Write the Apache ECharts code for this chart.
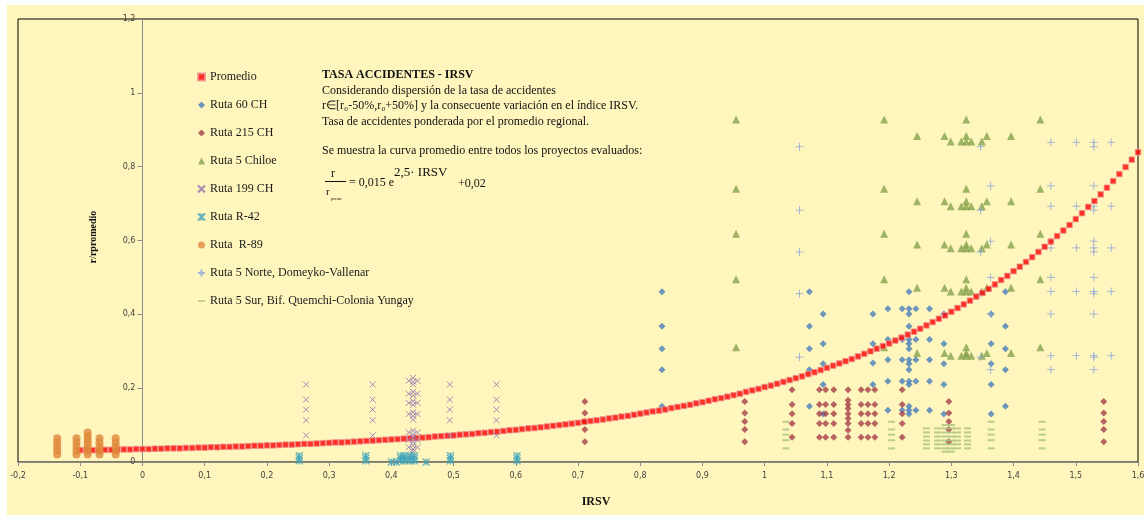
<!DOCTYPE html>
<html>
<head>
<meta charset="utf-8">
<script src="https://cdn.jsdelivr.net/npm/echarts@6/dist/echarts.min.js"></script>
<style>
html,body{margin:0;padding:0;background:#fff;width:1144px;height:515px;overflow:hidden;}
#bg{position:absolute;left:7px;top:5px;right:0;bottom:0;background:#FFF6BD;}
#chart{position:absolute;left:0;top:0;width:1144px;height:515px;}
</style>
</head>
<body>
<div id="bg"></div>
<div id="chart"></div>
<script>
// ---------------- DATA ----------------
const seriesNames = ['Promedio','Ruta 60 CH','Ruta 215 CH','Ruta 5 Chiloe','Ruta 199 CH','Ruta R-42','Ruta  R-89','Ruta 5 Norte, Domeyko-Vallenar','Ruta 5 Sur, Bif. Quemchi-Colonia Yungay'];

// Promedio curve: x from -0.10 to 1.60 every 0.01
const promStart = -0.10;
const promStep = 0.01;
const promY = [
0.032,0.032,0.032,0.033,0.033,0.033,0.034,0.034,0.034,0.035,
0.035,0.035,0.036,0.036,0.037,0.037,0.037,0.038,0.038,0.039,
0.039,0.040,0.040,0.041,0.041,0.042,0.042,0.043,0.044,0.044,
0.045,0.045,0.046,0.047,0.047,0.048,0.049,0.049,0.050,0.051,
0.052,0.053,0.053,0.054,0.055,0.056,0.057,0.058,0.059,0.060,
0.061,0.062,0.063,0.064,0.065,0.066,0.067,0.069,0.070,0.071,
0.072,0.074,0.075,0.076,0.078,0.079,0.081,0.082,0.084,0.086,
0.087,0.089,0.091,0.092,0.094,0.096,0.098,0.100,0.102,0.104,
0.106,0.109,0.111,0.113,0.115,0.118,0.120,0.123,0.125,0.128,
0.131,0.134,0.137,0.139,0.142,0.146,0.149,0.152,0.155,0.159,
0.162,0.166,0.170,0.173,0.177,0.181,0.185,0.190,0.194,0.198,
0.203,0.207,0.212,0.217,0.222,0.227,0.232,0.238,0.243,0.249,
0.255,0.261,0.267,0.273,0.279,0.286,0.293,0.300,0.307,0.314,
0.321,0.329,0.337,0.345,0.353,0.361,0.370,0.379,0.388,0.397,
0.407,0.417,0.427,0.437,0.448,0.458,0.469,0.481,0.493,0.504,
0.517,0.529,0.542,0.555,0.569,0.583,0.597,0.612,0.627,0.642,
0.658,0.674,0.691,0.707,0.725,0.743,0.761,0.780,0.799,0.819,
0.839];

// Ruta 60 CH: [x, [y values]]
const r60A = [0.461,0.368,0.307,0.250,0.151];
const r60B = [0.401,0.320,0.266,0.210,0.130];
const r60C = [0.415,0.332,0.277,0.219,0.140];
const ruta60 = [
 [0.835, r60A],[1.072, r60A],[1.094, r60B],[1.174,[0.401,0.320,0.268,0.210]],
 [1.198, r60C],[1.221, r60C],[1.232, r60A.concat(r60B, r60C)],[1.243, r60C],
 [1.265, r60C],[1.288, r60B],[1.364, r60B],[1.387, r60A]
];

// Ruta 215 CH
const r215P = [0.164,0.133,0.110,0.088,0.055];
const r215Q = [0.196,0.156,0.131,0.104,0.067];
const ruta215 = [
 [0.711, r215P],[0.968, r215P],[1.044, r215Q],[1.088, r215Q],[1.098, r215Q],[1.111, r215Q],
 [1.134, r215Q.concat([0.167,0.145,0.118,0.086])],[1.155, r215Q],[1.166, r215Q],[1.177, r215Q],
 [1.221, r215Q],[1.296, r215P],[1.545, r215P]
];

// Ruta 5 Chiloe
const chT1 = [0.928,0.740,0.618,0.495,0.311];
const chT2 = [0.883,0.706,0.589,0.472,0.295];
const chT3 = [0.868,0.693,0.579,0.462,0.288];
const chiloe = [
 [0.954, chT1],[1.192, chT1],[1.245, chT2],[1.289, chT2],[1.299, chT3],[1.316, chT3],
 [1.324, chT1.concat(chT2, chT3)],[1.332, chT3],[1.349, chT3],[1.357, chT2],[1.396, chT2],[1.443, chT1]
];

// Ruta 199 CH
const r199X = [0.210,0.169,0.142,0.113,0.072];
const ruta199 = [
 [0.263, r199X],[0.370, r199X],[0.494, r199X],[0.569, r199X],
 [0.428,[0.220,0.185,0.160,0.130,0.080,0.060,0.040]],
 [0.435,[0.228,0.218,0.210,0.190,0.180,0.165,0.155,0.135,0.125,0.115,0.085,0.075,0.065,0.055,0.045,0.035,0.028]],
 [0.442,[0.220,0.185,0.160,0.130,0.080,0.060,0.040]]
];

// Ruta R-42
const r42S = [0.003,0.010,0.017];
const rutaR42 = [
 [0.252, r42S],[0.359, r42S],[0.400,[0]],[0.408,[0]],[0.415, r42S],[0.422, r42S],
 [0.430, r42S],[0.437, r42S],[0.456,[0]],[0.495, r42S],[0.602, r42S]
];

// Ruta R-89
const r89S = [0.020,0.031,0.042,0.053,0.064];
const rutaR89 = [
 [-0.137, r89S],[-0.106, r89S],[-0.088,[0.020,0.030,0.040,0.050,0.060,0.070,0.080]],
 [-0.069, r89S],[-0.043, r89S]
];

// Ruta 5 Norte, Domeyko-Vallenar
const noN1 = [0.854,0.682,0.569,0.456,0.284];
const noN2 = [0.748,0.598,0.500,0.401,0.250];
const noN3 = [0.866,0.693,0.580,0.462,0.288];
const norte = [
 [1.056, noN1],[1.347, noN1],[1.363, noN2],[1.460, noN3.concat(noN2)],[1.501, noN3],
 [1.529, noN1.concat(noN2, noN3)],[1.557, noN3]
];

// Ruta 5 Sur, Bif. Quemchi-Colonia Yungay
const surS1 = [0.109,0.088,0.074,0.059,0.037];
const surS2 = [0.091,0.080,0.069,0.058,0.048,0.037];
const surS3 = [0.100,0.091,0.080,0.069,0.058,0.048,0.037,0.028];
const sur = [
 [1.034, surS1],[1.204, surS1],[1.260, surS2],[1.278, surS2],[1.290, surS3],[1.300, surS3],
 [1.310, surS2],[1.326, surS2],[1.364, surS1],[1.446, surS1]
];

// ---------------- CHART ----------------
function expand(cols){const out=[];cols.forEach(c=>c[1].forEach(y=>out.push([c[0],y])));return out;}
const promData = promY.map((y,i)=>[+(promStart+i*promStep).toFixed(2), y]);

const SERIF = '"Liberation Serif","Times New Roman",serif';
const fmt = v => (Math.round(v*10)/10).toString().replace('.', ',');

function sc(name, data, symbol, size, itemStyle, z){
  return {type:'scatter', name, data, symbol, symbolSize:size, itemStyle, z:z||2, silent:true, animation:false};
}

const GL = 18, GR = 6;
const plotW = 1144 - GL - GR;
const zeroOffset = plotW * 0.2 / 1.8;

const chart = echarts.init(document.getElementById('chart'), null, {renderer:'canvas'});
chart.setOption({
  backgroundColor:'transparent',
  animation:false,
  grid:{left:GL,right:GR,top:19,bottom:53,containLabel:false,outerBoundsMode:'none',show:true,borderColor:'#000',borderWidth:1,backgroundColor:'transparent'},
  xAxis:{type:'value',min:-0.2,max:1.6,interval:0.1,
    axisLine:{onZero:true,lineStyle:{color:'#8a8a8a',width:1}},
    axisTick:{show:true,length:4,lineStyle:{color:'#8a8a8a'}},
    axisLabel:{fontSize:8,color:'#404040',margin:10,fontFamily:'"DejaVu Sans",sans-serif',formatter:fmt},
    splitLine:{show:false}},
  yAxis:{type:'value',min:0,max:1.2,interval:0.2,position:'left',offset:-zeroOffset,
    axisLine:{show:true,onZero:false,lineStyle:{color:'#8a8a8a',width:1}},
    axisTick:{show:true,length:5,lineStyle:{color:'#8a8a8a'}},
    axisLabel:{fontSize:8,color:'#404040',margin:7,fontFamily:'"DejaVu Sans",sans-serif',formatter:fmt},
    splitLine:{show:false}},
  legend:{orient:'vertical',left:192,top:65,itemWidth:7,itemHeight:7,itemGap:14,
    selectedMode:false,
    textStyle:{fontFamily:SERIF,fontSize:12,color:'#1a1a1a',lineHeight:14},
    data:seriesNames},
  graphic:[
    {type:'text',left:322,top:69,style:{text:'TASA ACCIDENTES - IRSV',font:'bold 12px '+SERIF,fill:'#111'}},
    {type:'text',left:322,top:84.5,style:{text:'Considerando dispersión de la tasa de accidentes',font:'12px '+SERIF,fill:'#111'}},
    {type:'text',left:322,top:100,style:{text:'r∈[r₀-50%,r₀+50%] y la consecuente variación en el índice IRSV.',font:'12px '+SERIF,fill:'#111'}},
    {type:'text',left:322,top:115.5,style:{text:'Tasa de accidentes ponderada por el promedio regional.',font:'12px '+SERIF,fill:'#111'}},
    {type:'text',left:322,top:144.5,style:{text:'Se muestra la curva promedio entre todos los proyectos evaluados:',font:'12px '+SERIF,fill:'#111'}},
    {type:'text',left:331,top:168,style:{text:'r',font:'12px '+SERIF,fill:'#111'}},
    {type:'line',shape:{x1:325,y1:181.5,x2:346,y2:181.5},style:{stroke:'#111',lineWidth:1}},
    {type:'text',left:326,top:187,style:{text:'r',font:'11px '+SERIF,fill:'#111'}},
    {type:'text',left:331,top:196,style:{text:'prom',font:'5px '+SERIF,fill:'#111'}},
    {type:'text',left:349,top:177,style:{text:'= 0,015 e',font:'12px '+SERIF,fill:'#111'}},
    {type:'text',left:394,top:166,style:{text:'2,5· IRSV',font:'13px '+SERIF,fill:'#111'}},
    {type:'text',left:458,top:178,style:{text:'+0,02',font:'12px '+SERIF,fill:'#111'}},
    {type:'text',x:93,y:237,rotation:Math.PI/2,style:{text:'r/rpromedio',font:'bold 10px '+SERIF,fill:'#111',align:'center',verticalAlign:'middle'}},
    {type:'text',x:596,y:502,style:{text:'IRSV',font:'bold 12px '+SERIF,fill:'#111',align:'center',verticalAlign:'middle'}}
  ],
  series:[
    sc(seriesNames[0], promData, 'rect', 5.5, {color:'#FF0000',borderColor:'#EE8E8E',borderWidth:1}, 3),
    sc(seriesNames[1], expand(ruta60), 'diamond', 7, {color:'#4A7EBB'}, 2),
    sc(seriesNames[2], expand(ruta215), 'diamond', 7, {color:'#A5404A'}, 2),
    sc(seriesNames[3], expand(chiloe), 'triangle', 8, {color:'#86A24C'}, 2),
    sc(seriesNames[4], expand(ruta199), 'path://M0,0 L8,8 M8,0 L0,8', 6, {color:'#8B72B0',borderColor:'#8B72B0',borderWidth:1}, 4),
    sc(seriesNames[5], expand(rutaR42), 'path://M0,0 L8,8 M8,0 L0,8 M4,0 L4,8', 7, {color:'#3FA4BC',borderColor:'#3FA4BC',borderWidth:1.3}, 4),
    sc(seriesNames[6], expand(rutaR89), 'circle', 8, {color:'#E0883C'}, 4),
    sc(seriesNames[7], expand(norte), 'path://M4,0 L4,8 M0,4 L8,4', 8, {color:'#8EA8D8',borderColor:'#8EA8D8',borderWidth:1}, 2),
    sc(seriesNames[8], expand(sur), 'path://M0,0 L8,0 L8,2 L0,2 Z', [7,2], {color:'#A8C27E'}, 2)
  ]
});
</script>
</body>
</html>
